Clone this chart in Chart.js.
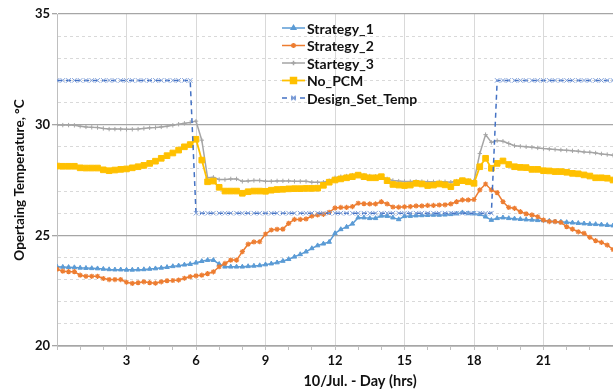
<!DOCTYPE html>
<html>
<head>
<meta charset="utf-8">
<script src="https://cdn.jsdelivr.net/npm/chart.js@4.4.0/dist/chart.umd.min.js"></script>
<style>
  html, body { margin: 0; padding: 0; background: #fff; }
  #wrap { width: 613px; height: 392px; }
</style>
</head>
<body>
<div id="wrap"><canvas id="temp-chart" width="613" height="392"></canvas></div>
<script>
// time grid: every 15 minutes over the day
const hours = Array.from({ length: 97 }, (_, i) => i / 4);

const strategy1 = [
  23.58, 23.57, 23.56, 23.55, 23.53, 23.52, 23.51, 23.50,
  23.48, 23.46, 23.45, 23.45, 23.44, 23.44, 23.45, 23.46,
  23.48, 23.50, 23.53, 23.56, 23.60, 23.63, 23.67, 23.70,
  23.76, 23.83, 23.88, 23.88, 23.70, 23.58, 23.58, 23.58,
  23.58, 23.60, 23.62, 23.64, 23.68, 23.72, 23.77, 23.84,
  23.92, 24.03, 24.14, 24.26, 24.41, 24.54, 24.62, 24.70,
  25.09, 25.27, 25.38, 25.52, 25.80, 25.80, 25.77, 25.77,
  25.88, 25.87, 25.80, 25.72, 25.86, 25.87, 25.89, 25.90,
  25.91, 25.92, 25.92, 25.93, 25.95, 25.98, 26.03, 25.99,
  25.98, 25.95, 25.84, 25.69, 25.77, 25.80, 25.77, 25.75,
  25.73, 25.71, 25.70, 25.68, 25.67, 25.65, 25.62, 25.61,
  25.59, 25.57, 25.55, 25.53, 25.51, 25.50, 25.48, 25.46,
  25.44
];

const strategy2 = [
  23.47, 23.38, 23.36, 23.36, 23.20, 23.15, 23.15, 23.15,
  23.05, 23.00, 23.00, 23.00, 22.88, 22.83, 22.86, 22.90,
  22.86, 22.84, 22.90, 22.95, 22.96, 22.98, 23.06, 23.13,
  23.17, 23.20, 23.27, 23.35, 23.58, 23.73, 23.88, 23.88,
  24.26, 24.60, 24.70, 24.71, 25.06, 25.24, 25.27, 25.28,
  25.54, 25.72, 25.72, 25.74, 25.87, 25.92, 25.95, 26.04,
  26.24, 26.26, 26.26, 26.30, 26.45, 26.43, 26.42, 26.42,
  26.52, 26.42, 26.28, 26.27, 26.29, 26.30, 26.33, 26.33,
  26.35, 26.35, 26.37, 26.38, 26.42, 26.52, 26.60, 26.60,
  26.62, 27.05, 27.32, 27.05, 26.93, 26.52, 26.26, 26.22,
  26.07, 25.97, 25.92, 25.84, 25.69, 25.62, 25.62, 25.58,
  25.39, 25.28, 25.16, 25.09, 24.91, 24.76, 24.68, 24.56,
  24.36
];

const strategy3 = [
  29.99, 29.98, 29.98, 29.97, 29.93, 29.90, 29.88, 29.87,
  29.83, 29.80, 29.80, 29.80, 29.79, 29.79, 29.80, 29.83,
  29.86, 29.87, 29.90, 29.93, 29.97, 30.02, 30.06, 30.10,
  30.16, 29.30, 27.60, 27.62, 27.52, 27.52, 27.55, 27.55,
  27.44, 27.46, 27.48, 27.48, 27.44, 27.44, 27.46, 27.46,
  27.46, 27.44, 27.44, 27.44, 27.40, 27.40, 27.40, 27.47,
  27.60, 27.65, 27.68, 27.72, 27.76, 27.72, 27.68, 27.66,
  27.66, 27.55, 27.48, 27.45, 27.43, 27.43, 27.44, 27.43,
  27.42, 27.42, 27.42, 27.42, 27.40, 27.45, 27.50, 27.48,
  27.45, 28.70, 29.55, 29.20, 29.28, 29.25, 29.15, 29.05,
  29.02, 29.00, 28.98, 28.95, 28.92, 28.90, 28.88, 28.86,
  28.84, 28.82, 28.80, 28.77, 28.75, 28.72, 28.68, 28.65,
  28.62
];

const noPcm = [
  28.13, 28.12, 28.12, 28.12, 28.05, 28.04, 28.04, 28.04,
  27.96, 27.92, 27.95, 27.98, 28.00, 28.05, 28.10, 28.16,
  28.25, 28.35, 28.48, 28.60, 28.72, 28.85, 29.00, 29.10,
  29.34, 28.40, 27.42, 27.45, 27.17, 27.00, 27.00, 27.00,
  26.90, 26.97, 27.00, 27.00, 26.99, 27.04, 27.07, 27.08,
  27.10, 27.11, 27.11, 27.12, 27.12, 27.13, 27.26, 27.40,
  27.50, 27.55, 27.60, 27.65, 27.72, 27.65, 27.60, 27.60,
  27.65, 27.47, 27.30, 27.27, 27.25, 27.27, 27.35, 27.32,
  27.25, 27.27, 27.32, 27.28, 27.20, 27.38, 27.47, 27.42,
  27.35, 28.10, 28.48, 28.03, 28.25, 28.36, 28.20, 28.10,
  28.07, 28.06, 27.98, 27.98, 27.92, 27.91, 27.88, 27.88,
  27.85, 27.80, 27.78, 27.73, 27.68, 27.60, 27.60, 27.58,
  27.50
];

const designSetTemp = [
  32, 32, 32, 32, 32, 32, 32, 32,
  32, 32, 32, 32, 32, 32, 32, 32,
  32, 32, 32, 32, 32, 32, 32, 32,
  26, 26, 26, 26, 26, 26, 26, 26,
  26, 26, 26, 26, 26, 26, 26, 26,
  26, 26, 26, 26, 26, 26, 26, 26,
  26, 26, 26, 26, 26, 26, 26, 26,
  26, 26, 26, 26, 26, 26, 26, 26,
  26, 26, 26, 26, 26, 26, 26, 26,
  26, 26, 26, 26, 32, 32, 32, 32,
  32, 32, 32, 32, 32, 32, 32, 32,
  32, 32, 32, 32, 32, 32, 32, 32,
  32
];

const yTickLabels = [20, 25, 30, 35];
const xTickLabels = [3, 6, 9, 12, 15, 18, 21];

const FONT = 'Lato, "Open Sans", sans-serif';

const toPoints = (values) => values.map((v, i) => ({ x: hours[i], y: v }));

// legend drawn inside the plot, plus the x axis title
const insideLegend = {
  id: 'insideLegend',
  afterDraw(chart) {
    const ctx = chart.ctx;
    ctx.save();
    chart.data.datasets.forEach((ds, i) => {
      const y = 28 + i * 17.5;
      ctx.strokeStyle = ds.borderColor;
      ctx.lineWidth = ds.borderWidth;
      ctx.setLineDash(ds.borderDash || []);
      ctx.beginPath();
      ctx.moveTo(282, y);
      ctx.lineTo(305, y);
      ctx.stroke();
      ctx.setLineDash([]);
      ctx.fillStyle = ds.pointBackgroundColor;
      ctx.strokeStyle = ds.pointBorderColor;
      Chart.helpers.drawPoint(ctx, {
        pointStyle: ds.pointStyle,
        radius: ds.pointRadius,
        borderWidth: ds.pointBorderWidth,
        rotation: 0
      }, 293.5, y);
      ctx.fillStyle = '#111';
      ctx.font = 'bold 14px ' + FONT;
      ctx.textAlign = 'left';
      ctx.textBaseline = 'middle';
      ctx.fillText(ds.label, 307, y + 1);
    });
    ctx.font = 'bold 14.5px ' + FONT;
    ctx.textAlign = 'center';
    ctx.textBaseline = 'middle';
    ctx.fillStyle = '#111';
    ctx.fillText('10/Jul. - Day (hrs)', 360, 381);
    ctx.restore();
  }
};

new Chart(document.getElementById('temp-chart'), {
  type: 'line',
  data: {
    datasets: [
      {
        label: 'Strategy_1',
        data: toPoints(strategy1),
        borderColor: '#5B9BD5',
        borderWidth: 1.5,
        pointStyle: 'triangle',
        pointRadius: 2.6,
        pointBackgroundColor: '#5B9BD5',
        pointBorderColor: '#5B9BD5',
        pointBorderWidth: 1,
        order: 4
      },
      {
        label: 'Strategy_2',
        data: toPoints(strategy2),
        borderColor: '#ED7D31',
        borderWidth: 1.5,
        pointStyle: 'star',
        pointRadius: 2.6,
        pointBackgroundColor: '#ED7D31',
        pointBorderColor: '#ED7D31',
        pointBorderWidth: 1.2,
        order: 3
      },
      {
        label: 'Startegy_3',
        data: toPoints(strategy3),
        borderColor: '#A5A5A5',
        borderWidth: 1.5,
        pointStyle: 'cross',
        pointRadius: 2.2,
        pointBackgroundColor: '#A5A5A5',
        pointBorderColor: '#A5A5A5',
        pointBorderWidth: 1,
        order: 2
      },
      {
        label: 'No_PCM',
        data: toPoints(noPcm),
        borderColor: '#FFC000',
        borderWidth: 1.8,
        pointStyle: 'rect',
        pointRadius: 4,
        pointBackgroundColor: '#FFC000',
        pointBorderColor: '#FFC000',
        pointBorderWidth: 1,
        order: 1
      },
      {
        label: 'Design_Set_Temp',
        data: toPoints(designSetTemp),
        borderColor: '#4472C4',
        borderWidth: 1.5,
        borderDash: [5, 4],
        pointStyle: 'crossRot',
        pointRadius: 3.2,
        pointBackgroundColor: '#4472C4',
        pointBorderColor: '#7F9FD8',
        pointBorderWidth: 1,
        order: 0
      }
    ]
  },
  options: {
    responsive: false,
    animation: false,
    events: [],
    layout: { autoPadding: false, padding: { top: 14, right: 0, left: 0, bottom: 0 } },
    elements: { line: { tension: 0 } },
    plugins: {
      legend: { display: false },
      tooltip: { enabled: false }
    },
    scales: {
      x: {
        type: 'linear',
        min: 0,
        max: 24,
        afterFit: (scale) => {
          scale.height = 46;
          scale.paddingLeft = 0;
          scale.paddingRight = 0;
        },
        ticks: {
          stepSize: 1,
          autoSkip: false,
          maxRotation: 0,
          padding: 3,
          color: '#111',
          font: { family: FONT, size: 13, weight: 'bold' },
          callback: (value) => xTickLabels.includes(value) ? String(value) : ''
        },
        grid: {
          color: (ctx) => (ctx.tick && ctx.tick.value % 3 === 0) ? '#D9D9D9' : 'rgba(0,0,0,0)',
          lineWidth: 1,
          tickLength: 4,
          tickColor: '#BFBFBF'
        },
        border: { color: '#BFBFBF', width: 1 }
      },
      y: {
        min: 20,
        max: 35,
        afterFit: (scale) => { scale.width = 57; },
        ticks: {
          stepSize: 1,
          padding: 2,
          color: '#111',
          font: { family: FONT, size: 13, weight: 'bold' },
          callback: (value) => yTickLabels.includes(value) ? String(value) : ''
        },
        grid: {
          color: (ctx) => (ctx.tick && ctx.tick.value % 5 === 0) ? '#A6A6A6' : '#D9D9D9',
          lineWidth: (ctx) => (ctx.tick && ctx.tick.value % 5 === 0) ? 1.3 : 1,
          tickLength: 5,
          tickColor: (ctx) => (ctx.tick && ctx.tick.value % 5 === 0) ? '#A6A6A6' : 'rgba(0,0,0,0)'
        },
        border: {
          color: '#BFBFBF',
          width: 1,
          dash: (ctx) => (ctx.tick && ctx.tick.value % 5 !== 0) ? [3, 3] : []
        },
        title: {
          display: true,
          text: 'Opertaing Temperature, °C',
          color: '#111',
          padding: { top: 12, bottom: 0 },
          font: { family: FONT, size: 13.5, weight: 'bold' }
        }
      }
    }
  },
  plugins: [insideLegend]
});
</script>
</body>
</html>
